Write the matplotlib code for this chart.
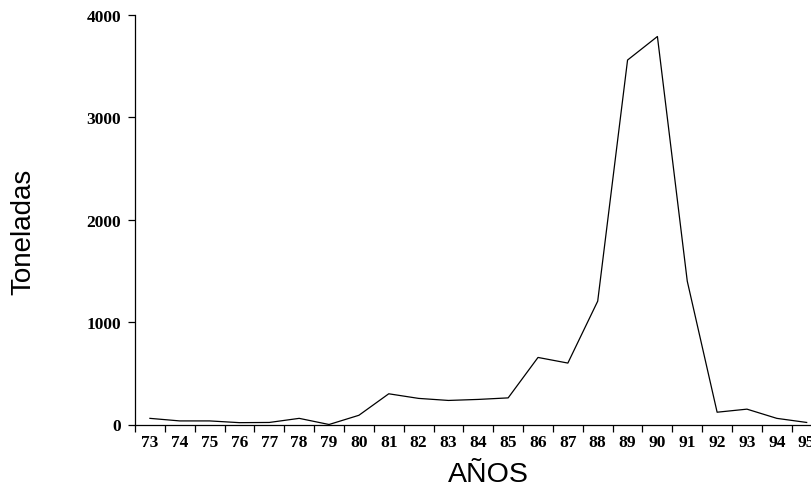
import matplotlib
matplotlib.use("Agg")
import matplotlib.pyplot as plt
from matplotlib.ticker import FixedLocator

years = list(range(73, 96))
year_labels = [str(y) for y in years]
toneladas = [60, 35, 35, 18, 20, 60, 0, 90, 300, 255, 235, 245, 260, 655, 600,
             1205, 3560, 3790, 1400, 120, 150, 60, 20]
y_ticks = [0, 1000, 2000, 3000, 4000]

W, H = 812, 489
fig = plt.figure(figsize=(W / 100, H / 100), dpi=100)
left_px, right_px, top_px, bottom_px = 135, 821.6, 16, 425.5
ax = fig.add_axes([left_px / W, (H - bottom_px) / H,
                   (right_px - left_px) / W, (bottom_px - top_px) / H])

ax.plot(years, toneladas, color="black", linewidth=0.9)
ax.set_xlim(72.5, 95.5)
ax.set_ylim(0, 4000)

for s in ["top", "right"]:
    ax.spines[s].set_visible(False)
for s in ["left", "bottom"]:
    ax.spines[s].set_linewidth(0.9)

tick_font = dict(family="Liberation Serif", weight="bold", size=12.5)
ax.set_xticks(years)
ax.set_xticklabels(year_labels, fontdict=tick_font)
ax.xaxis.set_minor_locator(FixedLocator([y - 0.5 for y in years] + [95.5]))
ax.tick_params(axis="x", which="major", length=0, pad=7)
ax.tick_params(axis="x", which="minor", length=5, width=0.9, direction="out")

ax.set_yticks(y_ticks)
ax.set_yticklabels([str(v) for v in y_ticks], fontdict=tick_font)
ax.tick_params(axis="y", which="major", length=5, width=0.9, pad=5)

fig.text(23 / W, 1 - 232 / H, "Toneladas", rotation=90, ha="center", va="center",
         family="Liberation Sans", fontsize=20)
fig.text(488 / W, 1 - 475 / H, "AÑOS", ha="center", va="center",
         family="Liberation Sans", fontsize=20.5)

fig.savefig("out.png", dpi=100)
